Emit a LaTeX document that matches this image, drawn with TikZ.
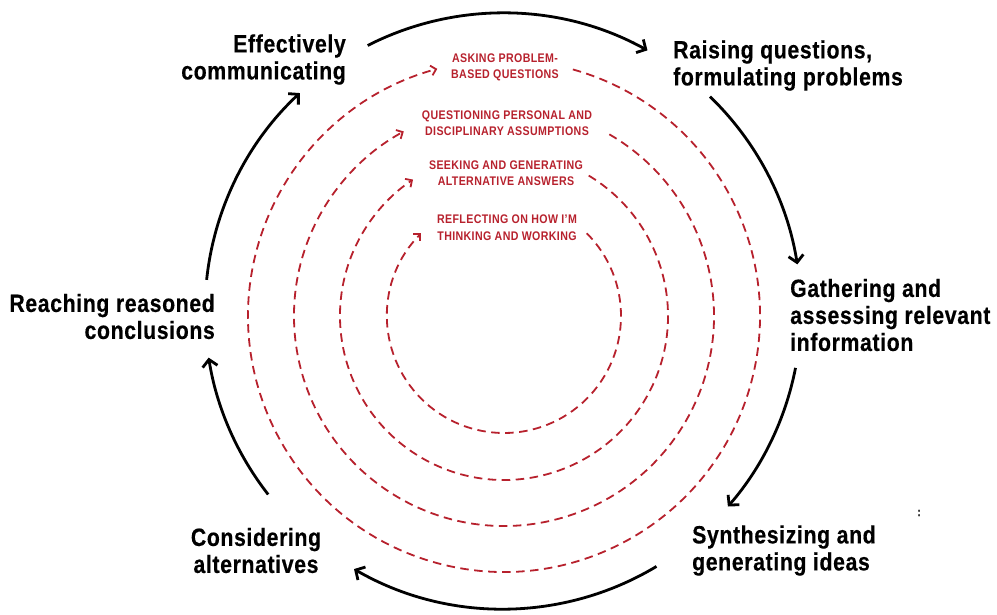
\documentclass[tikz,border=0pt]{standalone}
\usepackage{fontspec}
\usetikzlibrary{arrows.meta}
\newfontfamily\stagefont{Liberation Sans}[FakeStretch=0.85, LetterSpace=2.5, FakeBold=0.4]
\newfontfamily\habitfont{Liberation Sans}[FakeStretch=0.85, LetterSpace=3]
\definecolor{cred}{RGB}{183,33,45}
\begin{document}
\begin{tikzpicture}[x=1pt,y=1pt,
  stage/.style={font=\stagefont\bfseries\fontsize{25}{27}\selectfont, inner sep=0pt, text=black},
  habit/.style={font=\habitfont\bfseries\fontsize{12.5}{16.5}\selectfont, inner sep=0pt, text=cred, align=center},
  cycle/.style={line width=2.8pt, -{Straight Barb[length=7pt,width=15pt]}},
  loop/.style={cred, line width=1.8pt, dash pattern=on 8.5pt off 5.5pt, -{Straight Barb[length=5pt,width=10pt]}}]
\useasboundingbox (0,0) rectangle (997,614);
\coordinate (c) at (503,303);
\coordinate (h) at (504,298);
% stage labels
\node[stage, align=right, anchor=east] (comm) at (346,554.5) {Effectively\\communicating};
\node[stage, align=left, anchor=west] (raise) at (673,548.5) {Raising questions,\\formulating problems};
\node[stage, align=left, anchor=west] (gather) at (790,299) {Gathering and\\assessing relevant\\information};
\node[stage, align=left, anchor=west] (synth) at (692,63.5) {Synthesizing and\\generating ideas};
\node[stage, align=center] (consider) at (256,63.5) {Considering\\alternatives};
\node[stage, align=right, anchor=east] (reach) at (215,297.5) {Reaching reasoned\\conclusions};
% habit labels
\node[habit] (ask) at (505,546.5) {ASKING PROBLEM-\\BASED QUESTIONS};
\node[habit] (question) at (507,491) {QUESTIONING PERSONAL AND\\DISCIPLINARY ASSUMPTIONS};
\node[habit] (seek) at (506,441) {SEEKING AND GENERATING\\ALTERNATIVE ANSWERS};
\node[habit] (reflect) at (507,386.5) {REFLECTING ON HOW I’M\\THINKING AND WORKING};
\node[font=\stagefont\bfseries\fontsize{12}{13}\selectfont, inner sep=0pt] (colon) at (919,101) {:};
% outer cycle
\draw[cycle] (c) ++(117:298) arc[start angle=117, end angle=61, radius=298];
\draw[cycle] (c) ++(46:298) arc[start angle=46, end angle=9, radius=298];
\draw[cycle] (c) ++(-11:298) arc[start angle=-11, end angle=-41, radius=298];
\draw[cycle] (c) ++(-59:298) arc[start angle=-59, end angle=-120, radius=298];
\draw[cycle] (c) ++(-142:298) arc[start angle=-142, end angle=-171, radius=298];
\draw[cycle] (c) ++(174:298) arc[start angle=174, end angle=133, radius=298];
% inner loops
\draw[loop] (h) ++(74.4:256) arc[start angle=74.4, end angle=-254.9, radius=256];
\draw[loop] (h) ++(59.9:210) arc[start angle=59.9, end angle=-241.5, radius=210];
\draw[loop] (h) ++(58.9:164) arc[start angle=58.9, end angle=-236.3, radius=164];
\draw[loop] (h) ++(45:117) arc[start angle=45, end angle=-225, radius=117];
\end{tikzpicture}
\end{document}
